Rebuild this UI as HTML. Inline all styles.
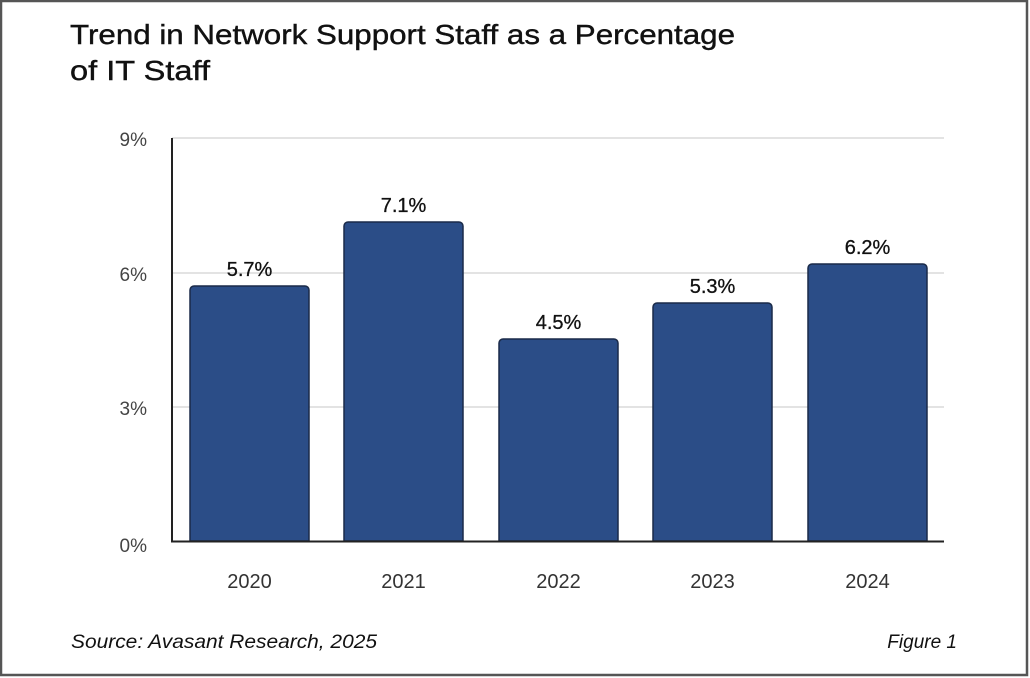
<!DOCTYPE html>
<html><head><style>html,body{margin:0;padding:0;background:#fff}svg{display:block}</style></head>
<body>
<svg width="1030" height="678" viewBox="0 0 1030 678" xmlns="http://www.w3.org/2000/svg" font-family="Liberation Sans, sans-serif">
<rect x="1" y="1" width="1026" height="674" fill="#fff" stroke="#555" stroke-width="2.5"/>
<text x="70" y="44" font-size="28" fill="#111" stroke="#111" stroke-width="0.4" textLength="665" lengthAdjust="spacingAndGlyphs">Trend in  Network Support Staff as a  Percentage</text>
<text x="70" y="80" font-size="28" fill="#111" stroke="#111" stroke-width="0.4" textLength="140" lengthAdjust="spacingAndGlyphs">of  IT Staff</text>
<g stroke="#e3e3e3" stroke-width="2">
<line x1="172" y1="138" x2="944" y2="138"/>
<line x1="172" y1="273" x2="944" y2="273"/>
<line x1="172" y1="407" x2="944" y2="407"/>
</g>
<g font-size="19" fill="#444" text-anchor="end">
<text x="147" y="146">9%</text>
<text x="147" y="281">6%</text>
<text x="147" y="415">3%</text>
<text x="147" y="552">0%</text>
</g>
<g fill="#2b4d87" stroke="#1a2a48" stroke-width="1.5">
<path d="M190,541 V290 a4,4 0 0 1 4,-4 H305 a4,4 0 0 1 4,4 V541Z"/>
<path d="M344,541 V226 a4,4 0 0 1 4,-4 H459 a4,4 0 0 1 4,4 V541Z"/>
<path d="M499,541 V343 a4,4 0 0 1 4,-4 H614 a4,4 0 0 1 4,4 V541Z"/>
<path d="M653,541 V307 a4,4 0 0 1 4,-4 H768 a4,4 0 0 1 4,4 V541Z"/>
<path d="M808,541 V268 a4,4 0 0 1 4,-4 H923 a4,4 0 0 1 4,4 V541Z"/>
</g>
<line x1="172" y1="138" x2="172" y2="542" stroke="#222" stroke-width="2"/>
<line x1="171" y1="541.5" x2="944" y2="541.5" stroke="#222" stroke-width="2"/>
<g font-size="20" fill="#111" stroke="#111" stroke-width="0.3" text-anchor="middle">
<text x="249.5" y="276">5.7%</text>
<text x="403.5" y="212">7.1%</text>
<text x="558.5" y="329">4.5%</text>
<text x="712.5" y="293">5.3%</text>
<text x="867.5" y="254">6.2%</text>
</g>
<g font-size="20" fill="#333" text-anchor="middle">
<text x="249.5" y="588">2020</text>
<text x="403.5" y="588">2021</text>
<text x="558.5" y="588">2022</text>
<text x="712.5" y="588">2023</text>
<text x="867.5" y="588">2024</text>
</g>
<text x="71" y="648" font-size="19" font-style="italic" fill="#111" textLength="306" lengthAdjust="spacingAndGlyphs">Source: Avasant  Research, 2025</text>
<text x="957" y="648" font-size="19" font-style="italic" fill="#111" text-anchor="end">Figure 1</text>
</svg>
</body></html>
